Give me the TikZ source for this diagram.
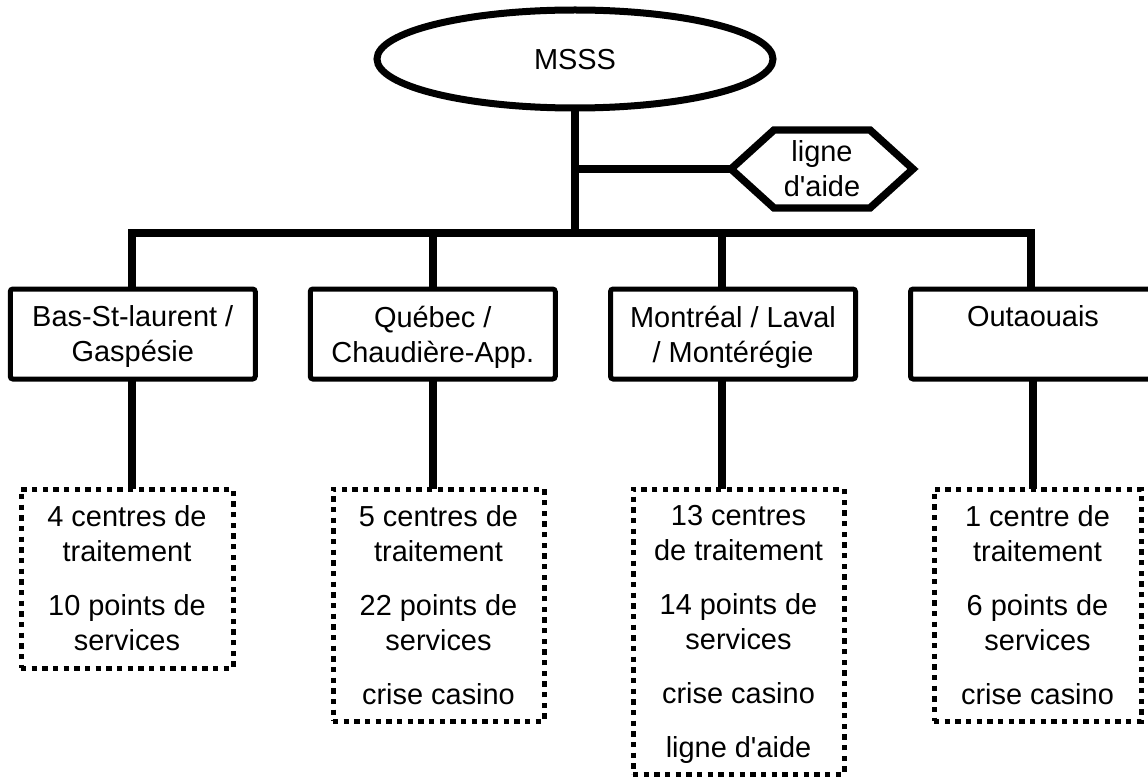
\documentclass[tikz,border=0pt]{standalone}
\usepackage{fontspec}
\setmainfont{Liberation Sans}
\usetikzlibrary{shapes.geometric}
\def\PX{0.75pt}
\newcommand\apos{\XeTeXglyph\XeTeXcharglyph"27\relax}
\begin{document}
\begin{tikzpicture}[x=0.75pt,y=-0.75pt,
  every node/.style={font=\fontsize{21.7pt}{26.25pt}\selectfont, align=center, inner sep=0pt, outer sep=0pt, text depth=0pt},
  conn/.style={line width=6pt, line join=miter, line cap=butt},
  rootshape/.style={ellipse, draw, line width=5.25pt, minimum width=396*\PX, minimum height=98*\PX},
  hexline/.style={line width=5.6pt, line join=miter},
  region/.style={draw, line width=3.75pt, rounded corners=2pt, minimum width=245*\PX, minimum height=90*\PX},
  detail/.style={draw, line width=3.75pt, dash pattern=on 4pt off 4pt, minimum width=211*\PX}]
\fill[white] (0,0) rectangle (1148,777);
\useasboundingbox (0,0) rectangle (1148,777);

% nodes
\node[rootshape] (msss) at (575,59) {MSSS};
\node (aide) at (822,169) {ligne\\d\apos aide};

\node[region] (b1) at (132.75,334) {Bas-St-laurent /\\Gaspésie};
\node[region] (b2) at (432.75,334) {Québec /\\Chaudière-App.};
\node[region] (b3) at (733,334) {Montréal / Laval\\/ Montérégie};
\node[region] (b4) at (1033,334) {Outaouais\\\vphantom{Gp}};

\node[detail, minimum width=212*\PX, minimum height=179*\PX] (d1) at (127,578.5)
  {4 centres de\\traitement\\[14.25pt]10 points de\\services};
\node[detail, minimum height=232*\PX] (d2) at (438.5,605)
  {5 centres de\\traitement\\[14.25pt]22 points de\\services\\[14.25pt]crise casino};
\node[detail, minimum height=285*\PX] (d3) at (738.5,631.5)
  {13 centres\\de traitement\\[14.25pt]14 points de\\services\\[14.25pt]crise casino\\[14.25pt]ligne d\apos aide};
\node[detail, minimum width=207*\PX, minimum height=232*\PX] (d4) at (1037.5,605)
  {1 centre de\\traitement\\[14.25pt]6 points de\\services\\[14.25pt]crise casino};

% hexagon around "ligne d'aide"
\coordinate (hexW) at ([shift={(-91,0)}]aide.center);
\draw[hexline] (hexW) -- ([shift={(-48,-39)}]aide.center) -- ([shift={(48,-39)}]aide.center)
  -- ([shift={(91,0)}]aide.center) -- ([shift={(48,39)}]aide.center)
  -- ([shift={(-48,39)}]aide.center) -- cycle;

% connector coordinates
\coordinate (col1) at (132,233);
\coordinate (col2) at (433,233);
\coordinate (col3) at (722,233);
\coordinate (col4) at (1031,233);
\coordinate (br) at (577,169);

% connectors
\draw[conn] (msss.south) -- (msss.south |- col1);
\draw[conn] (br) -- (hexW);
\draw[conn] (col1 |- b1.north) -- (col1) -- (col4) -- (col4 |- b4.north);
\draw[conn] (col2) -- (col2 |- b2.north);
\draw[conn] (col3) -- (col3 |- b3.north);

\draw[conn] (col1 |- b1.south) -- (col1 |- d1.north);
\draw[conn] (col2 |- b2.south) -- (col2 |- d2.north);
\draw[conn] (col3 |- b3.south) -- (col3 |- d3.north);
\draw[conn] ([xshift=1.5pt]col4 |- b4.south) -- ([xshift=1.5pt]col4 |- d4.north);
\end{tikzpicture}
\end{document}
